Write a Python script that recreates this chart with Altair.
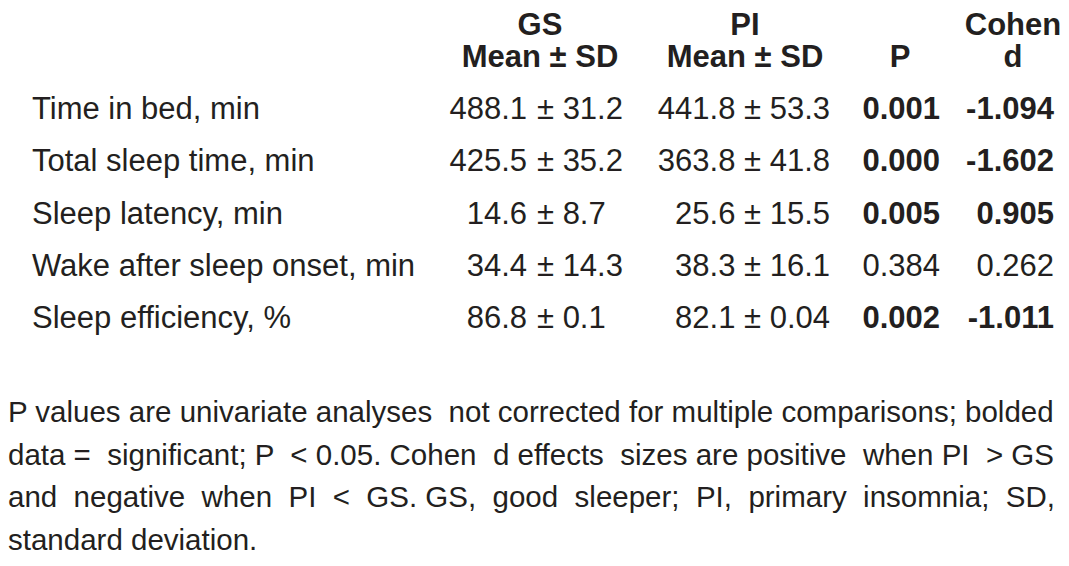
import altair as alt
import pandas as pd

# ---- table content ----
measures = [
    "Time in bed, min",
    "Total sleep time, min",
    "Sleep latency, min",
    "Wake after sleep onset, min",
    "Sleep efficiency, %",
]
gs_mean = ["488.1", "425.5", "14.6", "34.4", "86.8"]
gs_sd = ["31.2", "35.2", "8.7", "14.3", "0.1"]
pi_mean = ["441.8", "363.8", "25.6", "38.3", "82.1"]
pi_sd = ["53.3", "41.8", "15.5", "16.1", "0.04"]
p_values = ["0.001", "0.000", "0.005", "0.384", "0.002"]
cohen_d = ["-1.094", "-1.602", "0.905", "0.262", "-1.011"]

header_top = ["GS", "PI", "", "Cohen"]
header_bottom = ["Mean ± SD", "Mean ± SD", "P", "d"]

caption_lines = [
    "P values are univariate analyses not corrected for multiple comparisons; bolded",
    "data = significant; P < 0.05. Cohen d effects sizes are positive when PI > GS",
    "and negative when PI < GS. GS, good sleeper; PI, primary insomnia; SD,",
    "standard deviation.",
]
# extra word-gap padding to imitate the justified paragraph (style only)
caption_extra_gaps = [1, 6, 11, 0]

# ---- layout (pixels in plot area) ----
W, H = 1053, 550
FONT = "Liberation Sans, Arial, Helvetica, sans-serif"
FS = 31
CAP_FS = 29.5
INK = "#231f20"
COL_X = {
    "label": 24,
    "gs_mean_right": 519,
    "gs_sd_left": 529,
    "pi_right": 822,
    "p_right": 932,
    "d_right": 1046,
}
HEAD_X = [532, 737, 892, 1005]


def justify(line, extra):
    words = line.split(" ")
    gaps = len(words) - 1
    if extra <= 0 or gaps <= 0:
        return line
    picks = {round((k + 0.5) * gaps / extra - 0.5) for k in range(extra)}
    out = words[0]
    for g in range(gaps):
        out += (" \u00a0" if g in picks else " ") + words[g + 1]
    return out


table = pd.DataFrame({
    "row": list(range(len(measures))),
    "measure": measures,
    "gs_mean": gs_mean,
    "gs_sd": ["± " + s for s in gs_sd],
    "pi": [m + " ± " + s for m, s in zip(pi_mean, pi_sd)],
    "p": p_values,
    "d": cohen_d,
    "sig": [float(p) < 0.05 for p in p_values],
})

yscale = alt.Scale(domain=[-1, 4], range=[59, 320])
Y = alt.Y("row:Q", scale=yscale, axis=None)


def text_layer(df, field, x, align, weight="normal", dy=0, size=FS):
    return alt.Chart(df).mark_text(
        align=align, baseline="alphabetic", font=FONT, fontSize=size,
        fontWeight=weight, color=INK, dy=dy,
    ).encode(x=alt.value(x), y=Y, text=alt.Text(f"{field}:N"))


sig_df = table[table["sig"]]
nonsig_df = table[~table["sig"]]

layers = [
    text_layer(table, "measure", COL_X["label"], "left"),
    text_layer(table, "gs_mean", COL_X["gs_mean_right"], "right"),
    text_layer(table, "gs_sd", COL_X["gs_sd_left"], "left"),
    text_layer(table, "pi", COL_X["pi_right"], "right"),
    text_layer(sig_df, "p", COL_X["p_right"], "right", "bold"),
    text_layer(nonsig_df, "p", COL_X["p_right"], "right"),
    text_layer(sig_df, "d", COL_X["d_right"], "right", "bold"),
    text_layer(nonsig_df, "d", COL_X["d_right"], "right"),
]

for i, (top, bottom) in enumerate(zip(header_top, header_bottom)):
    hdf = pd.DataFrame({"row": [-1], "top": [top], "bottom": [bottom]})
    layers.append(text_layer(hdf, "bottom", HEAD_X[i], "center", "bold"))
    if top:
        layers.append(text_layer(hdf, "top", HEAD_X[i], "center", "bold", dy=-32))

cap_df = pd.DataFrame({
    "line": list(range(len(caption_lines))),
    "txt": [justify(t, e) for t, e in zip(caption_lines, caption_extra_gaps)],
})
caption = alt.Chart(cap_df).mark_text(
    align="left", baseline="alphabetic", font=FONT, fontSize=CAP_FS, color=INK
).encode(
    x=alt.value(0),
    y=alt.Y("line:Q", scale=alt.Scale(domain=[0, 3], range=[414, 542]), axis=None),
    text="txt:N",
)

table_chart = alt.layer(*layers)
chart = alt.layer(table_chart, caption).resolve_scale(y="independent").properties(
    width=W, height=H, padding=0, autosize=alt.AutoSizeParams(type="none"),
    background="white",
).configure_view(stroke=None)

chart.save("out.html", embed_options={"renderer": "svg", "actions": False})
